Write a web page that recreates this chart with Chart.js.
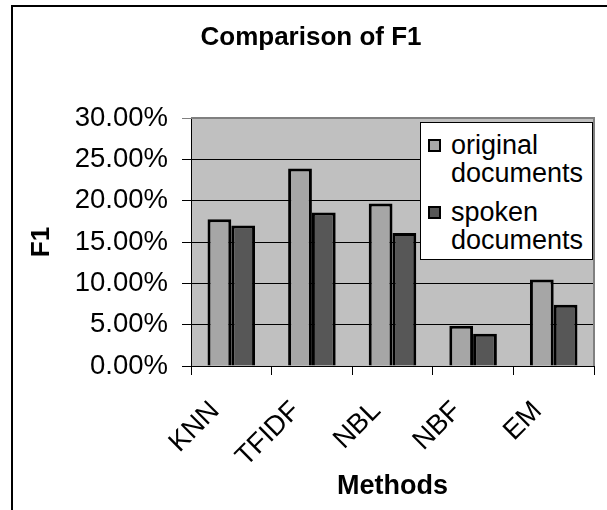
<!DOCTYPE html>
<html lang="en">
<head>
    <meta charset="UTF-8">
    <title>Comparison of F1</title>
    <script src="https://cdn.jsdelivr.net/npm/chart.js"></script>
    <style>
        body {
            margin: 0;
            padding: 0;
            background: #fff;
            font-family: "Liberation Sans", Arial, sans-serif;
        }
        .wrap {
            position: relative;
            width: 607px;
            height: 510px;
            overflow: hidden;
        }
        .frame {
            position: absolute;
            left: 11px;
            top: 5px;
            width: 700px;
            height: 600px;
            border-left: 2px solid #000;
            border-top: 2px solid #000;
        }
        canvas {
            position: absolute;
            left: 0;
            top: 0;
        }
        .legend {
            position: absolute;
            left: 420px;
            top: 122px;
            width: 173px;
            height: 138px;
            box-sizing: border-box;
            background: #fff;
            border: 1px solid #000;
            padding: 8px 0 0 7px;
        }
        .legend-item {
            display: flex;
            align-items: flex-start;
            margin-bottom: 11px;
        }
        .legend-color {
            width: 9px;
            height: 9px;
            border: 2px solid #000;
            margin-top: 8px;
            margin-right: 10px;
            flex: none;
        }
        .legend-item span {
            font-size: 27px;
            line-height: 28px;
            width: 145px;
            color: #000;
        }
    </style>
</head>
<body>
<div class="wrap">
    <div class="frame"></div>
    <canvas id="f1Chart" width="607" height="510"></canvas>
    <div id="f1Legend" class="legend"></div>
</div>

<script>
    const methods = ['KNN', 'TFIDF', 'NBL', 'NBF', 'EM'];
    const seriesNames = ['original documents', 'spoken documents'];
    const originalF1 = [0.1775, 0.239, 0.1965, 0.0487, 0.1047];
    const spokenF1 = [0.170, 0.1856, 0.161, 0.039, 0.074];
    const yTicks = [0, 0.05, 0.10, 0.15, 0.20, 0.25, 0.30];

    const colors = ['#a6a6a6', '#575757'];
    const fontFamily = '"Liberation Sans", Arial, sans-serif';

    // grey plot area with its border, and the chart title
    const plotArea = {
        id: 'plotArea',
        beforeDraw(chart) {
            const a = chart.chartArea;
            const ctx = chart.ctx;
            ctx.save();
            ctx.fillStyle = '#c0c0c0';
            ctx.fillRect(a.left, a.top, a.right - a.left, a.bottom - a.top);
            ctx.restore();
        },
        beforeDatasetsDraw(chart) {
            const a = chart.chartArea;
            const ctx = chart.ctx;
            ctx.save();
            ctx.strokeStyle = '#808080';
            ctx.lineWidth = 2;
            ctx.beginPath();
            ctx.moveTo(a.left, a.top);
            ctx.lineTo(a.right, a.top);
            ctx.lineTo(a.right, a.bottom);
            ctx.stroke();
            ctx.restore();
        },
        afterDraw(chart) {
            const ctx = chart.ctx;
            ctx.save();
            ctx.font = 'bold 26px ' + fontFamily;
            ctx.fillStyle = '#000';
            ctx.textAlign = 'center';
            ctx.textBaseline = 'middle';
            ctx.fillText('Comparison of F1', 311, 38);
            ctx.restore();
        }
    };

    const ctx = document.getElementById('f1Chart').getContext('2d');
    const chart = new Chart(ctx, {
        type: 'bar',
        data: {
            labels: methods,
            datasets: [
                {
                    label: seriesNames[0],
                    data: originalF1,
                    backgroundColor: colors[0],
                    borderColor: '#000',
                    borderWidth: 3,
                    categoryPercentage: 0.59,
                    barPercentage: 1.0
                },
                {
                    label: seriesNames[1],
                    data: spokenF1,
                    backgroundColor: colors[1],
                    borderColor: '#000',
                    borderWidth: 3,
                    categoryPercentage: 0.59,
                    barPercentage: 1.0
                }
            ]
        },
        options: {
            responsive: false,
            animation: false,
            layout: {
                padding: { top: 118, right: 13, bottom: 0, left: 0 }
            },
            plugins: {
                legend: { display: false },
                title: { display: false },
                tooltip: { enabled: false }
            },
            scales: {
                x: {
                    grid: {
                        offset: true,
                        drawOnChartArea: false,
                        drawTicks: true,
                        tickLength: 9,
                        color: '#000'
                    },
                    border: { display: true, color: '#000', width: 1 },
                    ticks: {
                        color: '#000',
                        font: { family: fontFamily, size: 27.5 },
                        minRotation: 45,
                        maxRotation: 45,
                        padding: 20,
                        labelOffset: -16
                    },
                    title: {
                        display: true,
                        text: 'Methods',
                        color: '#000',
                        font: { family: fontFamily, size: 27, weight: 'bold' },
                        padding: { top: 0, bottom: 7 }
                    },
                    afterFit(scale) {
                        scale.height = 144;
                    }
                },
                y: {
                    min: 0,
                    max: 0.3,
                    afterBuildTicks(scale) {
                        scale.ticks = yTicks.map(v => ({ value: v }));
                    },
                    grid: {
                        color: c => (c.tick && c.tick.value >= 0.3) ? '#808080' : '#000',
                        lineWidth: 1,
                        tickLength: 9,
                        drawTicks: true
                    },
                    border: { display: true, color: '#000', width: 1 },
                    ticks: {
                        color: '#000',
                        font: { family: fontFamily, size: 27.5 },
                        padding: 14,
                        callback: v => (v * 100).toFixed(2) + '%'
                    },
                    title: {
                        display: true,
                        text: 'F1',
                        color: '#000',
                        font: { family: fontFamily, size: 26, weight: 'bold' },
                        padding: { top: 26, bottom: 0 }
                    },
                    afterFit(scale) {
                        scale.width = 191;
                    }
                }
            }
        },
        plugins: [plotArea]
    });

    // legend with wrapped labels, as in the original
    const legendBox = document.getElementById('f1Legend');
    seriesNames.forEach((name, i) => {
        const item = document.createElement('div');
        item.className = 'legend-item';
        item.innerHTML =
            `<div class="legend-color" style="background-color: ${colors[i]}"></div>
            <span>${name}</span>`;
        legendBox.appendChild(item);
    });
</script>
</body>
</html>
